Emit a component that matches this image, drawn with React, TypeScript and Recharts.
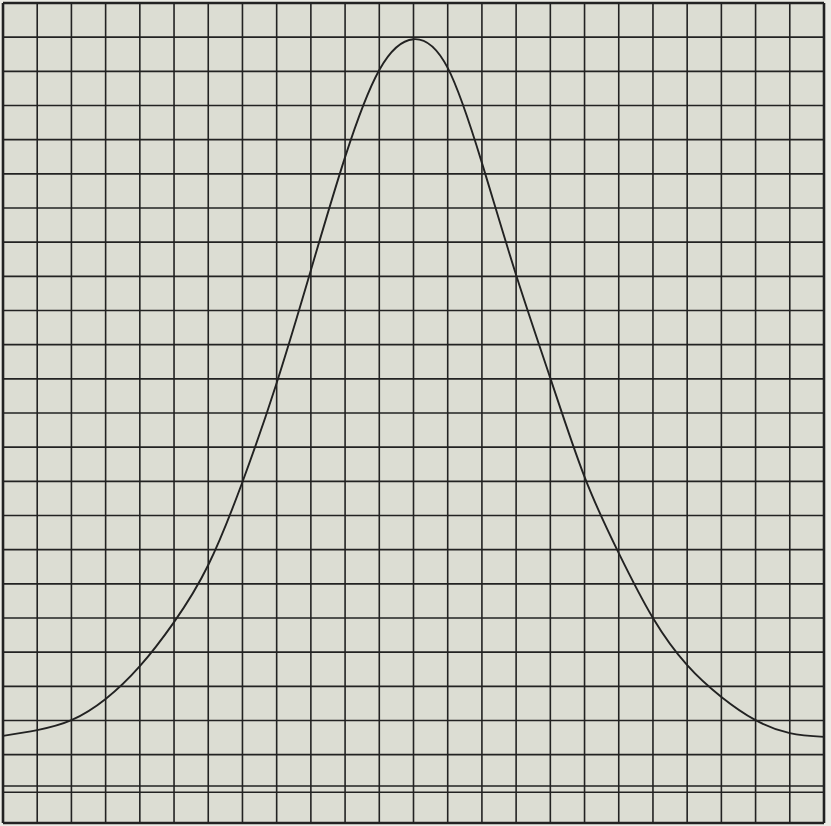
import { LineChart, Line, XAxis, YAxis, CartesianGrid, ReferenceLine } from 'recharts';

// grid positions along the sheet (one square = one unit)
const xCells = [0, 1, 2, 3, 4, 5, 6, 7, 8, 9, 10, 11, 12, 13, 14, 15, 16, 17, 18, 19, 20, 21, 22, 23, 24];
const yCells = [0, 2, 3, 4, 5, 6, 7, 8, 9, 10, 11, 12, 13, 14, 15, 16, 17, 18, 19, 20, 21, 22, 23, 24];
// doubled ruling near the bottom of the sheet
const baseLines = [0.9, 1.08];

// curve height read at every vertical ruling
const curveX = [0, 1, 2, 3, 4, 5, 6, 7, 8, 9, 10, 11, 12, 13, 14, 15, 16, 17, 18, 19, 20, 21, 22, 23, 24];
const curveY = [2.55, 2.72, 3.01, 3.63, 4.59, 5.88, 7.55, 9.98, 12.88, 16.18, 19.49, 22.04, 22.94, 22.1, 19.32, 16.04, 13.02, 10.13, 7.9, 6.0, 4.62, 3.69, 3.01, 2.63, 2.52];

const rows = curveX.map((x, i) => ({ x, y: curveY[i] }));

const PAPER = '#dcddd3';
const INK = '#222222';

export default function App() {
    return (
        <div style={{ position: 'absolute', top: 0, left: 0, width: 831, height: 826, background: '#ecece6' }}>
            <LineChart width={831} height={826} data={rows} margin={{ top: 3, right: 7, bottom: 3, left: 3 }}>
                <XAxis dataKey="x" type="number" domain={[0, 24]} ticks={xCells} hide />
                <YAxis type="number" domain={[0, 24]} ticks={yCells} hide />
                <CartesianGrid stroke={INK} strokeWidth={1.6} fill={PAPER} fillOpacity={1} horizontalValues={yCells} verticalValues={xCells} />
                {baseLines.map(v => <ReferenceLine key={v} y={v} stroke={INK} strokeWidth={1.5} />)}
                <ReferenceLine x={0} stroke={INK} strokeWidth={2.6} />
                <ReferenceLine x={24} stroke={INK} strokeWidth={2.6} />
                <ReferenceLine y={0} stroke={INK} strokeWidth={2.6} />
                <ReferenceLine y={24} stroke={INK} strokeWidth={2.6} />
                <Line type="natural" dataKey="y" stroke={INK} strokeWidth={1.9} dot={false} isAnimationActive={false} />
            </LineChart>
        </div>
    );
}
